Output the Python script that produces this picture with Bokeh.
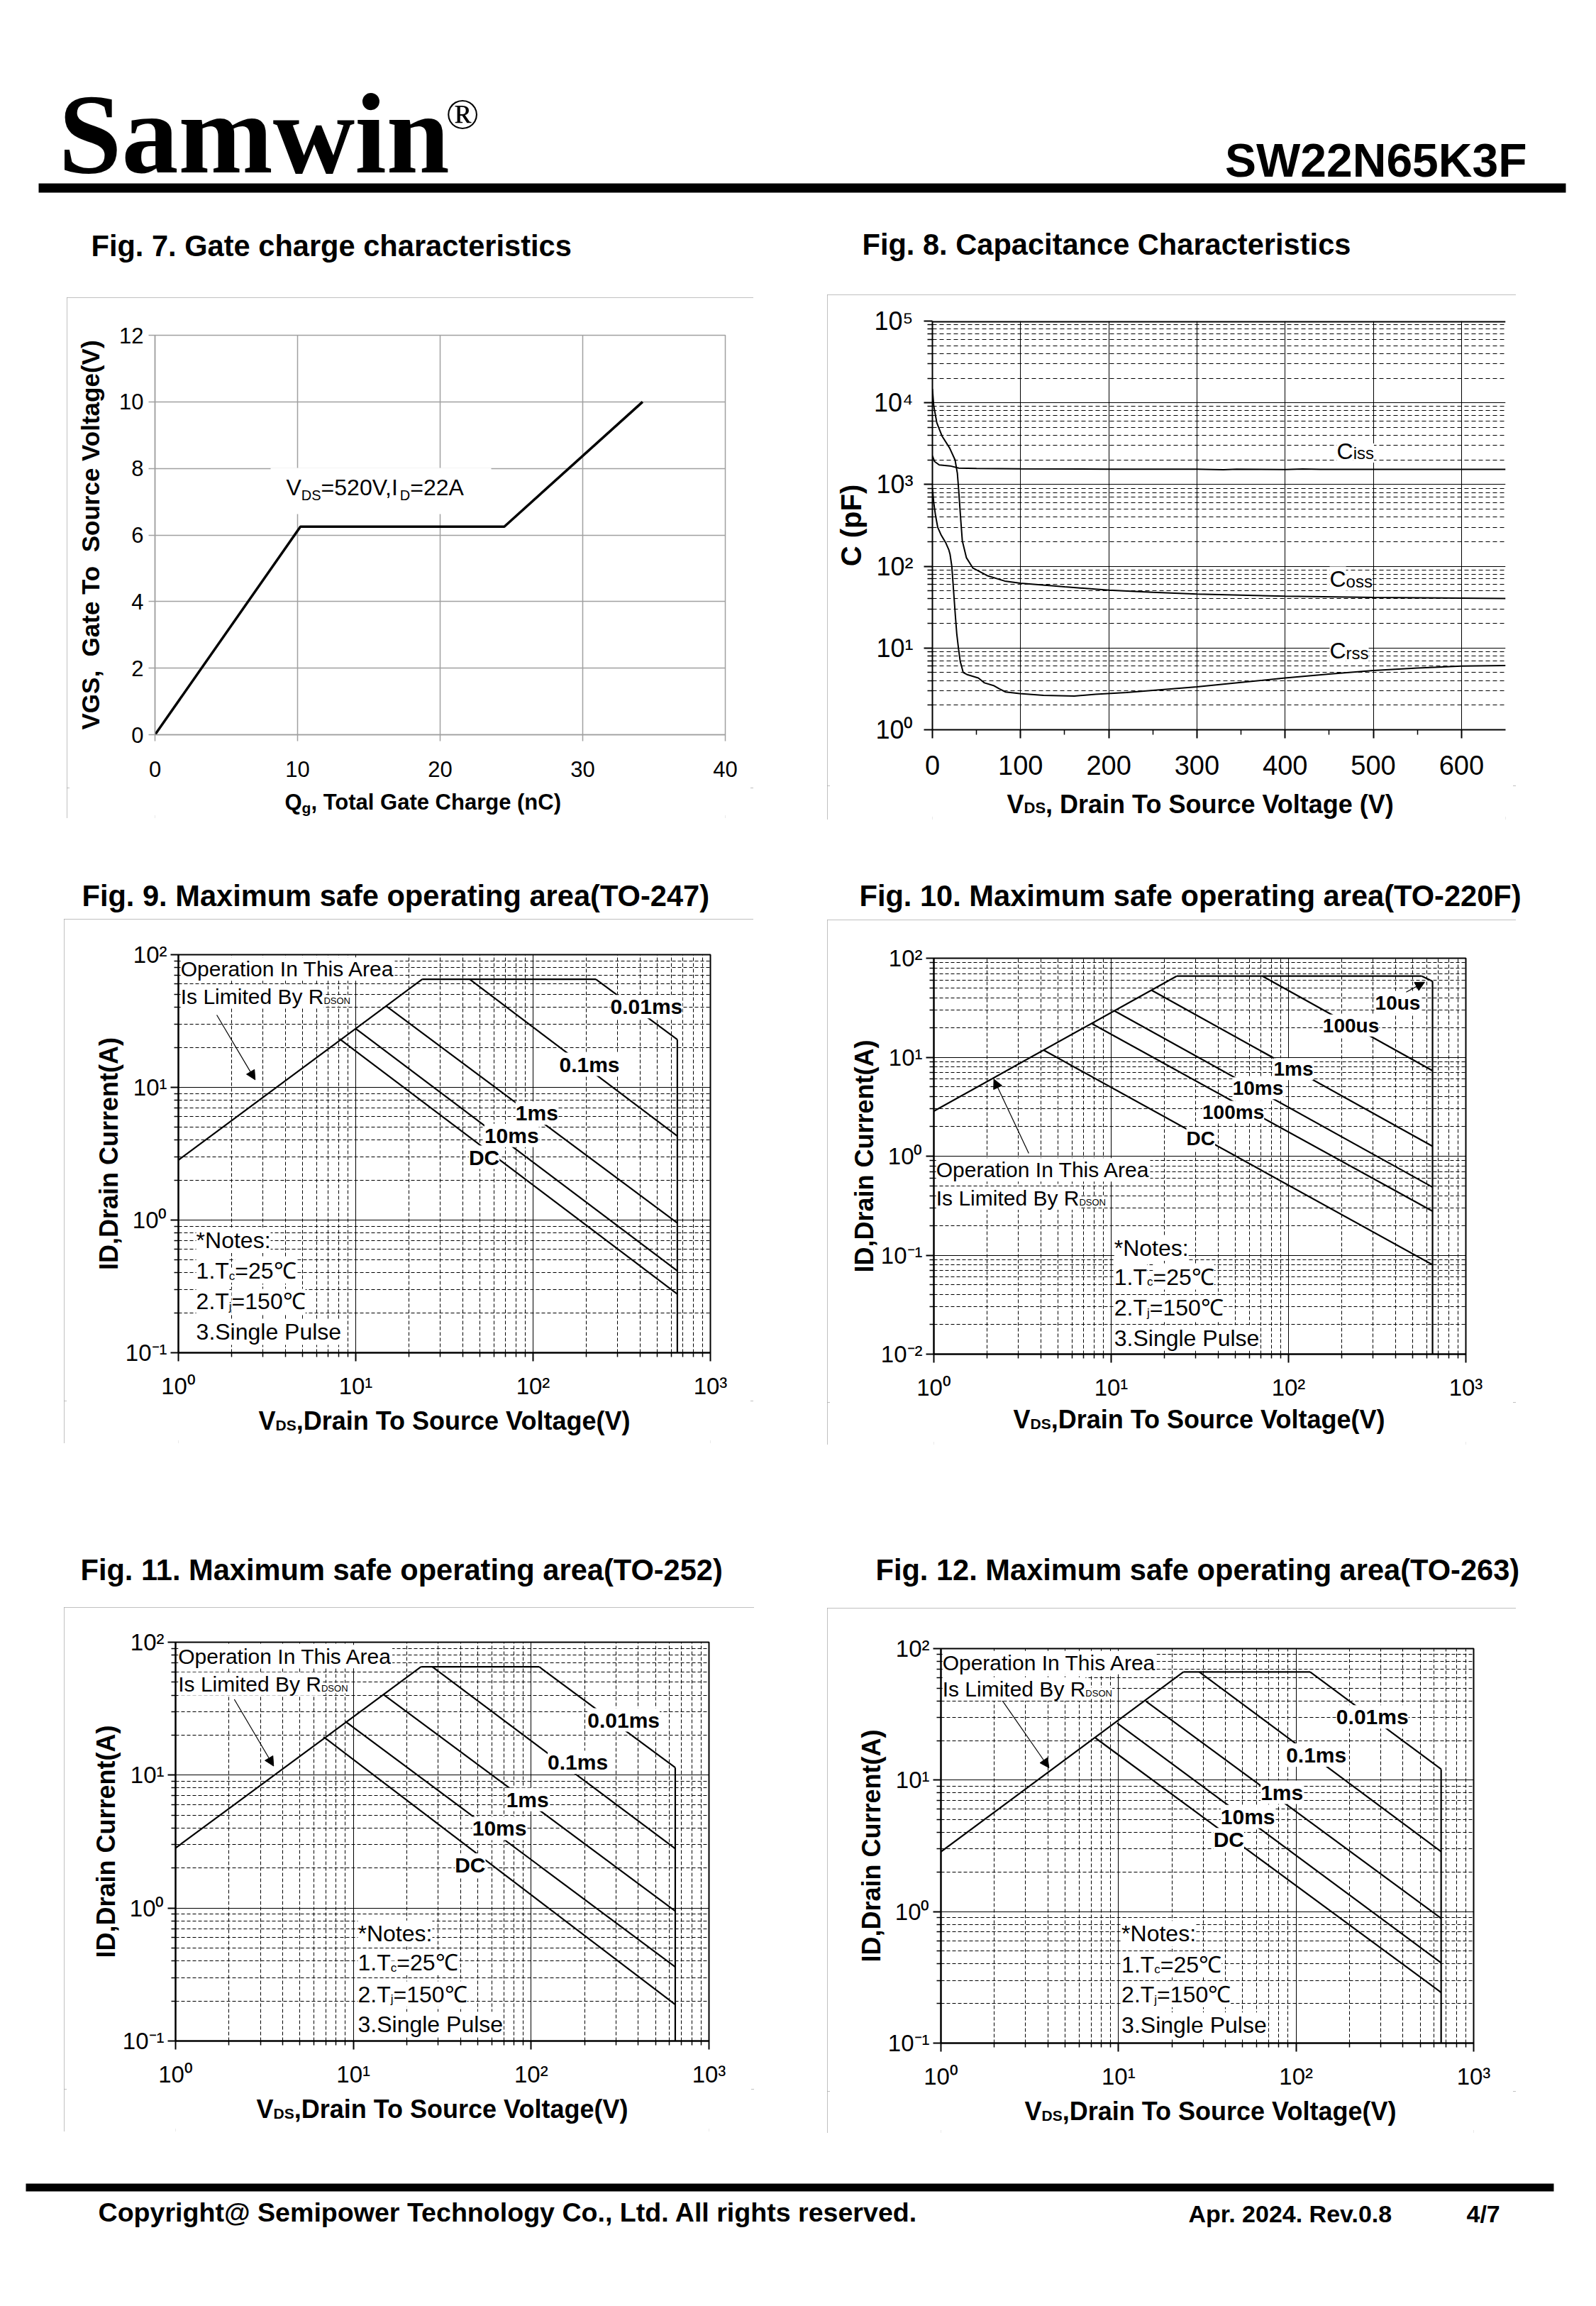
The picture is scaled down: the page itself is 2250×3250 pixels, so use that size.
import math
from bokeh.plotting import figure
from bokeh.layouts import column, row
from bokeh.models import (Label, BoxAnnotation, FixedTicker, CustomJSTickFormatter,
                          Arrow, NormalHead, Range1d, Span, Spacer)
from bokeh.embed import file_html
from bokeh.resources import INLINE

# ======================= DATA =======================
# Fig. 7 gate charge
gc_qg = [0.0, 10.2, 24.5, 34.2]
gc_vgs = [0.0, 6.25, 6.25, 10.0]
gc_xticks = [0, 10, 20, 30, 40]
gc_yticks = [0, 2, 4, 6, 8, 10, 12]

# Fig. 8 capacitance
cap_xticks = [0, 100, 200, 300, 400, 500, 600]
cap_xminor = [50, 150, 250, 350, 450, 550]
cap_yticks = [1, 10, 100, 1000, 10000, 100000]
ciss_v = [0, 2.5, 7.7, 20, 30, 50, 100, 200, 300, 330, 345, 400, 420, 440, 500, 600, 650]
ciss_pf = [2250, 1910, 1740, 1690, 1590, 1570, 1555, 1545, 1540, 1520, 1545, 1525, 1550, 1535, 1535, 1535, 1535]
coss_v = [0, 1.5, 5, 11, 19.5, 25.7, 28.3, 29.8, 31.9, 33.9, 38.6, 46, 62, 82, 100, 150, 200, 250, 300, 400, 500, 600, 650]
coss_pf = [14800, 9200, 5700, 3900, 2800, 2000, 1370, 850, 400, 205, 127, 95, 77, 66, 62, 56, 51, 48, 45.7, 43.1, 41.5, 40.7, 40.3]
crss_v = [0, 1.5, 3.5, 6, 10, 15, 18.5, 20, 22, 24, 26, 27.6, 29.5, 31.6, 35, 40, 52, 59, 70, 76, 83, 99, 126, 161,
          185, 220, 300, 350, 400, 450, 500, 550, 600, 650]
crss_pf = [900, 600, 420, 300, 240, 195, 160, 140, 100, 50, 25, 15, 10, 6.8, 5.0, 4.7, 4.3, 3.75, 3.45, 3.16, 2.9,
           2.77, 2.64, 2.59, 2.71, 2.86, 3.35, 3.8, 4.3, 4.8, 5.3, 5.7, 6.0, 6.1]

# SOA common ticks
soa_xticks = [1, 10, 100, 1000]
soa_yticks = [0.1, 1, 10, 100]
soa_yticks_220 = [0.01, 0.1, 1, 10, 100]

# Fig. 9 TO-247  (V, A)
t247_rdson_v = [1.0, 23.7];   t247_rdson_a = [2.83, 65.3]
t247_top_v = [23.7, 226.0];   t247_top_a = [65.3, 65.3]
t247_001_v = [226.0, 651.0];  t247_001_a = [65.3, 22.9]
t247_bv_v = [651.0, 651.0];   t247_bv_a = [22.9, 0.1]
t247_01_v = [43.9, 651.0];    t247_01_a = [65.3, 4.29]
t247_1_v = [14.8, 651.0];     t247_1_a = [41.1, 0.95]
t247_10_v = [10.0, 651.0];    t247_10_a = [27.7, 0.414]
t247_dc_v = [8.1, 651.0];     t247_dc_a = [23.2, 0.277]

# Fig. 10 TO-220F
t220_rdson_v = [1.0, 23.4];   t220_rdson_a = [2.85, 66.0]
t220_top_v = [23.4, 565.0];   t220_top_a = [66.0, 66.0]
t220_10us_v = [565.0, 649.0]; t220_10us_a = [66.0, 58.4]
t220_bv_v = [649.0, 649.0];   t220_bv_a = [58.4, 0.01]
t220_100us_v = [71.3, 649.0]; t220_100us_a = [66.0, 7.3]
t220_1_v = [16.8, 649.0];     t220_1_a = [47.8, 1.26]
t220_10_v = [10.4, 649.0];    t220_10_a = [29.5, 0.487]
t220_100_v = [7.82, 649.0];   t220_100_a = [21.7, 0.278]
t220_dc_v = [4.16, 649.0];    t220_dc_a = [11.8, 0.08]

# Fig. 11 TO-252
t252_rdson_v = [1.0, 24.0];   t252_rdson_a = [2.83, 65.3]
t252_top_v = [24.0, 111.0];   t252_top_a = [65.3, 65.3]
t252_001_v = [111.0, 646.0];  t252_001_a = [65.3, 11.4]
t252_bv_v = [646.0, 646.0];   t252_bv_a = [11.4, 0.1]
t252_01_v = [27.8, 646.0];    t252_01_a = [65.3, 2.8]
t252_1_v = [14.7, 646.0];     t252_1_a = [40.6, 0.95]
t252_10_v = [9.04, 646.0];    t252_10_a = [25.3, 0.361]
t252_dc_v = [6.8, 646.0];     t252_dc_a = [19.4, 0.188]

# Fig. 12 TO-263
t263_rdson_v = [1.0, 23.2];   t263_rdson_a = [2.85, 66.5]
t263_top_v = [23.2, 120.0];   t263_top_a = [66.5, 66.5]
t263_001_v = [120.0, 656.0];  t263_001_a = [66.5, 12.1]
t263_bv_v = [656.0, 656.0];   t263_bv_a = [12.1, 0.1]
t263_01_v = [28.5, 656.0];    t263_01_a = [66.5, 2.86]
t263_1_v = [14.3, 656.0];     t263_1_a = [39.7, 0.89]
t263_10_v = [9.83, 656.0];    t263_10_a = [27.1, 0.408]
t263_dc_v = [7.42, 656.0];    t263_dc_a = [20.9, 0.243]

# ======================= HELPERS =======================
SANS = "Liberation Sans"
SERIF = "Liberation Serif"
GRAY = "#ababab"
NB = "\u00a0"

WR = [278,278,355,556,556,889,667,191,333,333,389,584,278,333,278,278,
      556,556,556,556,556,556,556,556,556,556,
      278,278,584,584,584,556,1015,
      667,667,722,722,667,611,778,722,278,500,667,556,833,722,778,667,778,722,667,611,722,667,944,667,667,611,
      278,278,278,469,556,333,
      556,556,500,556,556,278,556,556,222,222,500,222,833,556,556,556,556,333,500,278,556,500,722,500,500,500,
      334,260,334,584]
WB = [278,333,474,556,556,889,722,238,333,333,389,584,278,333,278,278,
      556,556,556,556,556,556,556,556,556,556,
      333,333,584,584,584,611,975,
      722,722,722,722,667,611,778,722,278,556,722,611,833,722,778,667,778,722,667,611,722,667,944,667,667,611,
      333,278,333,584,556,333,
      556,611,556,611,556,333,611,611,278,278,556,278,889,611,611,611,611,389,556,333,611,556,778,556,556,500,
      389,280,389,584]


def tw(s, size, bold=False):
    t = WB if bold else WR
    tot = 0
    for ch in s:
        o = ord(ch)
        if 32 <= o <= 126:
            tot += t[o - 32]
        elif ch == NB:
            tot += 278
        elif ch == "\u2103":
            tot += 1000
        else:
            tot += 556
    return tot * size / 1000.0


def put(p, text, x, y, size, units="screen", bold=False, font=SANS, align="left",
        mode="base", xo=0.0, yo=0.0, bg=None, color="black"):
    # mode "base": (x, y) lies on the text baseline; "mid": (x, y) is the centre line
    if mode == "base":
        yo += 0.35 * size
    kw = dict(x=x, y=y, x_units=units, y_units=units, x_offset=xo, y_offset=yo, text=text,
              text_font=font, text_font_size="%.1fpx" % size,
              text_font_style="bold" if bold else "normal", text_align=align,
              text_baseline="middle", text_color=color)
    if bg is not None:
        kw["background_fill_color"] = bg
        kw["background_fill_alpha"] = 1.0
    p.add_layout(Label(**kw))


def rich(p, pieces, x, y, units="screen", lift=0.0, bg=None, font=SANS):
    off = 0.0
    for text, size, bold, drop in pieces:
        put(p, text, x, y, size, units, bold, font, xo=off, yo=-(lift + drop), bg=bg)
        off += tw(text, size, bold)


def mkfig(ox, oy, W, H, L, R, T, B, xr, yr, xt="linear", yt="linear"):
    p = figure(width=W, height=H, x_range=xr, y_range=yr, x_axis_type=xt, y_axis_type=yt,
               output_backend="svg", toolbar_location=None, title=None,
               min_border_left=L - ox, min_border_right=ox + W - R,
               min_border_top=T - oy, min_border_bottom=oy + H - B)
    p.border_fill_color = "white"
    p.background_fill_color = "white"
    return p, (lambda a: a - L), (lambda a: B - a)


def strip(x0, x1, y0, y1):
    p = figure(width=x1 - x0, height=y1 - y0, x_range=Range1d(0, 1), y_range=Range1d(0, 1),
               x_axis_type=None, y_axis_type=None, output_backend="svg", toolbar_location=None,
               title=None, min_border=0)
    p.outline_line_color = None
    p.border_fill_color = "white"
    p.background_fill_color = "white"
    return p, (lambda a: a - x0), (lambda a: y1 - a)


def xlabel_strip(box, frame_left, y0):
    # sits under the chart in a column: Bokeh aligns its frame with the chart frame,
    # so horizontal positions are measured from the chart frame's left edge
    p, _, ysy = strip(box[0], box[1], y0, box[3])
    return p, (lambda a: a - frame_left), ysy


def sbox(p, sx, sy, l, r, t, b, fill="black"):
    p.add_layout(BoxAnnotation(left=sx(l), right=sx(r), top=sy(t), bottom=sy(b),
                               left_units="screen", right_units="screen",
                               top_units="screen", bottom_units="screen",
                               fill_color=fill, fill_alpha=1.0, line_color=None))


def build_cell(ox, oy, W, H, chart, xstrip, box, title, title_at):
    gl, gr, gt, gb = box
    top, tsx, tsy = strip(ox, ox + W, oy, gt)
    put(top, title, tsx(title_at[0]), tsy(title_at[1]), 41.6, bold=True)
    inner = column(chart, xstrip, styles={"outline": "4px solid " + GRAY, "outline-offset": "-4px"})
    mid = row(Spacer(width=gl - ox, height=gb - gt), inner, Spacer(width=ox + W - gr, height=gb - gt))
    return column(top, mid, Spacer(width=W, height=oy + H - gb))


def pow_fmt():
    return CustomJSTickFormatter(code="""
        const sup = {"-": "\u207b", "0": "\u2070", "1": "\u00b9", "2": "\u00b2",
                     "3": "\u00b3", "4": "\u2074", "5": "\u2075"};
        const e = Math.round(Math.log10(tick));
        let s = "";
        for (const c of String(e)) { s += sup[c]; }
        return "10" + s;
    """)


def log_minor(kmin, kmax):
    return [m * 10.0 ** k for k in range(kmin, kmax) for m in range(2, 10)]


def style_axis(ax, color, lw, tick_out, minor_out, font_size, standoff):
    ax.axis_line_color = color
    ax.axis_line_width = lw
    ax.major_tick_line_color = color
    ax.major_tick_line_width = lw
    ax.major_tick_out = tick_out
    ax.major_tick_in = 0
    if minor_out:
        ax.minor_tick_line_color = color
        ax.minor_tick_line_width = 1.5
        ax.minor_tick_out = minor_out
        ax.minor_tick_in = 0
    else:
        ax.minor_tick_line_color = None
    ax.major_label_text_font = SANS
    ax.major_label_text_font_size = "%dpx" % font_size
    ax.major_label_text_color = "black"
    ax.major_label_standoff = standoff


def style_axis_label(ax, text, size, standoff):
    ax.axis_label = text
    ax.axis_label_text_font = SANS
    ax.axis_label_text_font_size = "%dpx" % size
    ax.axis_label_text_font_style = "bold"
    ax.axis_label_text_color = "black"
    ax.axis_label_standoff = standoff


# ======================= HEADER =======================
ph, hx, hy = strip(8, 2242, 8, 300)
put(ph, "Samwin", hx(90), hy(252), 160, bold=True, font=SERIF)
put(ph, "\u00ae", hx(636), hy(189), 62, font=SERIF)
put(ph, "SW22N65K3F", hx(2160), hy(257), 66, bold=True, align="right")
sbox(ph, hx, hy, 62, 2215, 266, 279)

# ======================= FIG 7 =======================
box = (102, 1070, 427, 1161)
L, R, T, B = 226, 1030, 480, 1043
BX = 1118
p7, sx, sy = mkfig(box[0], box[2], box[1] - box[0], BX - box[2], L, R, T, B, Range1d(0, 40), Range1d(0, 12))
gcol = "#a0a0a0"
p7.xaxis.ticker = FixedTicker(ticks=gc_xticks)
p7.yaxis.ticker = FixedTicker(ticks=gc_yticks)
p7.xgrid.ticker = FixedTicker(ticks=gc_xticks)
p7.ygrid.ticker = FixedTicker(ticks=gc_yticks)
style_axis(p7.xaxis[0], gcol, 1.5, 9, 0, 31, 28)
style_axis(p7.yaxis[0], gcol, 1.5, 9, 0, 31, 7)
style_axis_label(p7.yaxis[0], "VGS," + NB + " Gate To" + NB + " Source Voltage(V)", 35, 18)
for g in (p7.xgrid[0], p7.ygrid[0]):
    g.grid_line_color = gcol
    g.grid_line_width = 1.5
p7.outline_line_color = gcol
p7.outline_line_width = 1.5
p7.line(gc_qg, gc_vgs, line_color="black", line_width=3.5)
sbox(p7, sx, sy, 389, 700, 667, 732, fill="white")
rich(p7, [("V", 32, False, 0), ("DS", 20, False, 6), ("=520V,I", 32, False, 0),
          ("D", 20, False, 6), ("=22A", 32, False, 0)], sx(411), sy(706))
x7, xsx, xsy = xlabel_strip(box, L, BX)
rich(x7, [("Q", 31, True, 0), ("g", 21, True, 4), (", Total Gate Charge (nC)", 31, True, 0)],
     xsx(409), xsy(1149))
cell7 = build_cell(8, 300, 1117, 930, p7, x7, box, "Fig. 7. Gate charge characteristics", (136, 369))

# ======================= FIG 8 =======================
box = (1174, 2145, 423, 1163)
L, R, T, B = 1322, 2130, 460, 1036
BX = 1115
p8, sx, sy = mkfig(box[0], box[2], box[1] - box[0], BX - box[2], L, R, T, B, Range1d(0, 650), Range1d(1, 1e5),
                   "linear", "log")
p8.xaxis.ticker = FixedTicker(ticks=cap_xticks, minor_ticks=cap_xminor)
p8.yaxis.ticker = FixedTicker(ticks=cap_yticks, minor_ticks=log_minor(0, 5))
p8.xgrid.ticker = FixedTicker(ticks=cap_xticks)
p8.ygrid.ticker = FixedTicker(ticks=cap_yticks, minor_ticks=log_minor(0, 5))
p8.yaxis.formatter = pow_fmt()
style_axis(p8.xaxis[0], "black", 2, 12, 7, 38, 24)
style_axis(p8.yaxis[0], "black", 2, 12, 7, 36, 15)
style_axis_label(p8.yaxis[0], "C (pF)", 40, 7)
p8.xgrid[0].grid_line_color = "black"
p8.xgrid[0].grid_line_width = 1
p8.xgrid[0].minor_grid_line_color = None
p8.ygrid[0].grid_line_color = "black"
p8.ygrid[0].grid_line_width = 1
p8.ygrid[0].minor_grid_line_color = "black"
p8.ygrid[0].minor_grid_line_width = 1
p8.ygrid[0].minor_grid_line_dash = "6 4"
p8.outline_line_color = None
p8.add_layout(Span(location=1e5, dimension="width", line_color="black", line_width=4))
p8.line(ciss_v, ciss_pf, line_color="black", line_width=2)
p8.line(coss_v, coss_pf, line_color="black", line_width=2)
p8.line(crss_v, crss_pf, line_color="black", line_width=2)
rich(p8, [("C", 32, False, 0), ("iss", 24, False, 0)], 458.6, 2056, units="data", bg="white")
rich(p8, [("C", 32, False, 0), ("oss", 24, False, 0)], 450.5, 55.4, units="data", bg="white")
rich(p8, [("C", 32, False, 0), ("rss", 24, False, 0)], 450.5, 7.37, units="data", bg="white")
x8, xsx, xsy = xlabel_strip(box, L, BX)
rich(x8, [("V", 36, True, 0), ("DS", 22, True, 0), (", Drain To Source Voltage (V)", 36, True, 0)],
     xsx(1427), xsy(1154))
cell8 = build_cell(1125, 300, 1117, 930, p8, x8, box, "Fig. 8. Capacitance Characteristics", (1223, 367))


# ======================= SOA charts =======================
def soa(ox, oy, H, frame, box, title, title_at, yticks, segs, tags, tag_size,
        oper, oper_arrow, notes_x, notes_y, xlab_at, extra_arrows=()):
    L, R, T, B = frame
    BX = B + 66
    p, sx, sy = mkfig(box[0], box[2], box[1] - box[0], BX - box[2], L, R, T, B,
                      Range1d(1, 1000), Range1d(yticks[0], yticks[-1]), "log", "log")
    kmin = int(round(math.log10(yticks[0])))
    xt = FixedTicker(ticks=soa_xticks, minor_ticks=log_minor(0, 3))
    yt = FixedTicker(ticks=yticks, minor_ticks=log_minor(kmin, 2))
    p.xaxis.ticker = xt
    p.yaxis.ticker = yt
    p.xgrid.ticker = xt
    p.ygrid.ticker = yt
    p.xaxis.formatter = pow_fmt()
    p.yaxis.formatter = pow_fmt()
    style_axis(p.xaxis[0], "black", 2, 12, 6, 33, 16)
    style_axis(p.yaxis[0], "black", 2, 11, 6, 33, 5)
    style_axis_label(p.yaxis[0], "ID,Drain Current(A)", 36, 0)
    for g in (p.xgrid[0], p.ygrid[0]):
        g.grid_line_color = "black"
        g.grid_line_width = 1
        g.minor_grid_line_color = "black"
        g.minor_grid_line_width = 1
        g.minor_grid_line_dash = "5 3"
    p.outline_line_color = "black"
    p.outline_line_width = 2
    for xs, ys in segs:
        p.line(xs, ys, line_color="black", line_width=2.2)
    for text, x, y in tags:
        put(p, text, x, y, tag_size, "data", True, align="center", mode="mid", bg="white")
    for (x0, y0, x1, y1) in list(extra_arrows) + [oper_arrow]:
        p.add_layout(Arrow(end=NormalHead(size=13, line_color="black", fill_color="black", line_width=1),
                           x_start=x0, y_start=y0, x_end=x1, y_end=y1,
                           line_color="black", line_width=1.2))
    ox_, oy1, oy2 = oper
    put(p, "Operation In This Area", ox_, oy1, 30, "data", mode="mid", bg="white")
    rich(p, [("Is Limited By R", 30, False, 0), ("DSON", 13, False, 0)], ox_, oy2, units="data",
         lift=10.5, bg="white")
    put(p, "*Notes:", notes_x, notes_y[0], 32, "data", mode="mid", bg="white")
    rich(p, [("1.T", 32, False, 0), ("c", 17, False, 2), ("=25\u2103", 32, False, 0)],
         notes_x, notes_y[1], units="data", lift=11.2, bg="white")
    rich(p, [("2.T", 32, False, 0), ("j", 17, False, 2), ("=150\u2103", 32, False, 0)],
         notes_x, notes_y[2], units="data", lift=11.2, bg="white")
    put(p, "3.Single Pulse", notes_x, notes_y[3], 32, "data", mode="mid", bg="white")

    xs_, xsx, xsy = xlabel_strip(box, L, BX)
    rich(xs_, [("V", 36, True, 0), ("DS", 21, True, 0), (",Drain To Source Voltage(V)", 36, True, 0)],
         xsx(xlab_at[0]), xsy(xlab_at[1]))
    return build_cell(ox, oy, 1117, H, p, xs_, box, title, title_at)


cell9 = soa(8, 1230, 930, (259, 1009, 1353, 1916), (98, 1070, 1303, 2042),
            "Fig. 9. Maximum safe operating area(TO-247)", (123, 1285), soa_yticks,
            [(t247_rdson_v, t247_rdson_a), (t247_top_v, t247_top_a), (t247_001_v, t247_001_a),
             (t247_bv_v, t247_bv_a), (t247_01_v, t247_01_a), (t247_1_v, t247_1_a),
             (t247_10_v, t247_10_a), (t247_dc_v, t247_dc_a)],
            [("0.01ms", 436, 40.6), ("0.1ms", 208, 14.9), ("1ms", 105, 6.4), ("10ms", 75.7, 4.34),
             ("DC", 53, 2.97)], 30,
            (1.03, 78, 48.5), (1.646, 35.1, 2.71, 11.4),
            1.26, [0.705, 0.414, 0.243, 0.143], (372, 2023))

cell10 = soa(1125, 1230, 930, (1324, 2074, 1358, 1918), (1174, 2145, 1304, 2044),
             "Fig. 10. Maximum safe operating area(TO-220F)", (1219, 1285), soa_yticks_220,
             [(t220_rdson_v, t220_rdson_a), (t220_top_v, t220_top_a), (t220_10us_v, t220_10us_a),
              (t220_bv_v, t220_bv_a), (t220_100us_v, t220_100us_a), (t220_1_v, t220_1_a),
              (t220_10_v, t220_10_a), (t220_100_v, t220_100_a), (t220_dc_v, t220_dc_a)],
             [("10us", 413, 35.5), ("100us", 225, 20.9), ("1ms", 106.6, 7.6), ("10ms", 67.3, 4.85),
              ("100ms", 48.8, 2.8), ("DC", 32, 1.5)], 28,
             (1.03, 0.728, 0.377), (3.43, 1.07, 2.18, 6.0),
             10.4, [0.118, 0.0604, 0.0293, 0.0146], (1436, 2021),
             extra_arrows=[(461, 45.4, 586, 57.4)])

cell11 = soa(8, 2160, 900, (255, 1007, 2322, 2886), (98, 1071, 2273, 3012),
             "Fig. 11. Maximum safe operating area(TO-252)", (121, 2235), soa_yticks,
             [(t252_rdson_v, t252_rdson_a), (t252_top_v, t252_top_a), (t252_001_v, t252_001_a),
              (t252_bv_v, t252_bv_a), (t252_01_v, t252_01_a), (t252_1_v, t252_1_a),
              (t252_10_v, t252_10_a), (t252_dc_v, t252_dc_a)],
             [("0.01ms", 331, 26), ("0.1ms", 183, 12.5), ("1ms", 95.4, 6.56), ("10ms", 66.3, 3.97),
              ("DC", 45.4, 2.11)], 30,
             (1.035, 78, 48.5), (2.14, 37.2, 3.56, 11.7),
             10.6, [0.645, 0.39, 0.225, 0.133], (369, 2993))

cell12 = soa(1125, 2160, 900, (1334, 2085, 2331, 2889), (1174, 2145, 2274, 3014),
             "Fig. 12. Maximum safe operating area(TO-263)", (1242, 2235), soa_yticks,
             [(t263_rdson_v, t263_rdson_a), (t263_top_v, t263_top_a), (t263_001_v, t263_001_a),
              (t263_bv_v, t263_bv_a), (t263_01_v, t263_01_a), (t263_1_v, t263_1_a),
              (t263_10_v, t263_10_a), (t263_dc_v, t263_dc_a)],
             [("0.01ms", 269, 30.2), ("0.1ms", 130, 15.5), ("1ms", 83.2, 8.07), ("10ms", 53.5, 5.28),
              ("DC", 41.8, 3.53)], 30,
             (1.02, 78.2, 49.3), (2.19, 41.2, 4.06, 12.4),
             10.4, [0.68, 0.396, 0.234, 0.137], (1452, 2996))

# ======================= FOOTER =======================
pf, fx, fy = strip(8, 2242, 3060, 3200)
sbox(pf, fx, fy, 44, 2198, 3085, 3096)
put(pf, "Copyright@ Semipower Technology Co., Ltd. All rights reserved.", fx(146), fy(3139), 37.6, bold=True)
put(pf, "Apr. 2024. Rev.0.8", fx(1683), fy(3139), 34, bold=True)
put(pf, "4/7", fx(2075), fy(3139), 34, bold=True)

page = column(ph, row(cell7, cell8), row(cell9, cell10), row(cell11, cell12), pf)
open("out.html", "w", encoding="utf-8").write(file_html(page, INLINE))
